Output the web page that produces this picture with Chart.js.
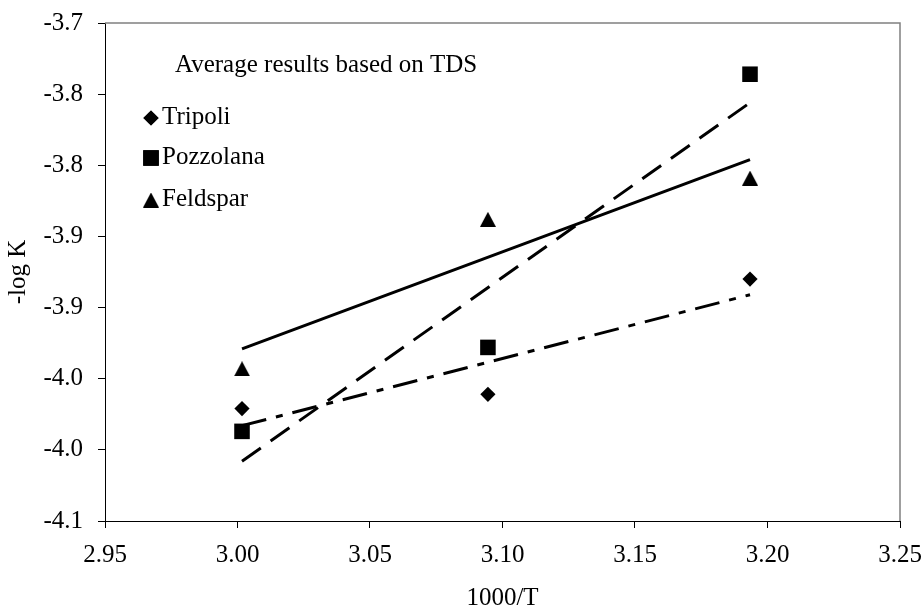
<!DOCTYPE html>
<html>
<head>
<meta charset="utf-8">
<script src="https://cdn.jsdelivr.net/npm/chart.js@4.4.1/dist/chart.umd.min.js"></script>
<style>
  html, body { margin: 0; padding: 0; background: #ffffff; }
  #wrap { width: 923px; height: 614px; position: relative; }
</style>
</head>
<body>
<div id="wrap"><canvas id="c" width="923" height="614"></canvas></div>
<script>
// ---- data ----
const xValues = [3.0017, 3.0945, 3.1934];           // 1000/T
const tripoli = [-3.971, -3.961, -3.880];
const pozzolana = [-3.987, -3.928, -3.736];
const feldspar = [-3.943, -3.838, -3.809];

// trendline end points
const fitX = [3.0017, 3.1934];
const tripoliFit = [-3.983, -3.891];
const pozzolanaFit = [-4.008, -3.756];
const feldsparFit = [-3.929, -3.796];

const seriesNames = ['Tripoli', 'Pozzolana', 'Feldspar'];
const legendTitle = 'Average results based on TDS';

const xTickValues = [2.95, 3.00, 3.05, 3.10, 3.15, 3.20, 3.25];
const xTickLabels = ['2.95', '3.00', '3.05', '3.10', '3.15', '3.20', '3.25'];
const yTickValues = [-4.05, -4.00, -3.95, -3.90, -3.85, -3.80, -3.75, -3.70];
const yTickLabels = ['-4.1', '-4.0', '-4.0', '-3.9', '-3.9', '-3.8', '-3.8', '-3.7'];

const xTitle = '1000/T';
const yTitle = '-log K';

// ---- build ----
const FONT = '"Liberation Serif", "Times New Roman", serif';
const FS = 25;
const toPts = (xs, ys) => xs.map((x, i) => ({ x: x, y: ys[i] }));

function triangleCanvas(w, h) {
  const c = document.createElement('canvas');
  c.width = w; c.height = h;
  const g = c.getContext('2d');
  g.fillStyle = '#000';
  g.beginPath();
  g.moveTo(w / 2, 0);
  g.lineTo(w, h);
  g.lineTo(0, h);
  g.closePath();
  g.fill();
  return c;
}
const triBig = triangleCanvas(16, 15);

const markerStyles = ['rectRot', 'rect', triBig];
const markerRadius = [7.6, 11, 8];

const datasets = [
  { type: 'line', label: 'fitT', data: toPts(fitX, tripoliFit), borderColor: '#000', borderWidth: 3,
    borderDash: [25, 10, 7, 10], pointRadius: 0, fill: false, order: 2 },
  { type: 'line', label: 'fitP', data: toPts(fitX, pozzolanaFit), borderColor: '#000', borderWidth: 3,
    borderDash: [23, 12], pointRadius: 0, fill: false, order: 2 },
  { type: 'line', label: 'fitF', data: toPts(fitX, feldsparFit), borderColor: '#000', borderWidth: 3,
    pointRadius: 0, fill: false, order: 2 },
  { type: 'scatter', label: seriesNames[0], data: toPts(xValues, tripoli), pointStyle: markerStyles[0],
    pointRadius: markerRadius[0], backgroundColor: '#000', borderColor: '#000', borderWidth: 0, order: 1 },
  { type: 'scatter', label: seriesNames[1], data: toPts(xValues, pozzolana), pointStyle: markerStyles[1],
    pointRadius: markerRadius[1], backgroundColor: '#000', borderColor: '#000', borderWidth: 0, order: 1 },
  { type: 'scatter', label: seriesNames[2], data: toPts(xValues, feldspar), pointStyle: markerStyles[2],
    pointRadius: markerRadius[2], backgroundColor: '#000', borderColor: '#000', borderWidth: 0, order: 1 }
];

const frame = {
  id: 'frame',
  afterDraw(chart) {
    const ctx = chart.ctx, a = chart.chartArea;
    ctx.save();
    ctx.strokeStyle = '#808080';
    ctx.lineWidth = 1.5;
    ctx.beginPath();
    ctx.moveTo(a.left, a.top);
    ctx.lineTo(a.right, a.top);
    ctx.lineTo(a.right, a.bottom);
    ctx.stroke();
    // legend text box
    ctx.fillStyle = '#000';
    ctx.font = FS + 'px ' + FONT;
    ctx.textBaseline = 'middle';
    ctx.textAlign = 'left';
    ctx.fillText(legendTitle, 175, 65);
    const rows = [117, 157, 199];
    for (let i = 0; i < 3; i++) {
      ctx.fillStyle = '#000';
      Chart.helpers.drawPoint(ctx, { pointStyle: markerStyles[i], radius: markerRadius[i], borderWidth: 0 }, 151, rows[i] + 1);
      if (typeof markerStyles[i] === 'string') ctx.fill();
      ctx.fillText(seriesNames[i], 162, rows[i]);
    }
    ctx.restore();
  }
};

new Chart(document.getElementById('c'), {
  type: 'scatter',
  data: { datasets },
  options: {
    responsive: false,
    animation: false,
    layout: { autoPadding: false, padding: { top: 23, right: 23, left: 0, bottom: 0 } },
    plugins: { legend: { display: false }, tooltip: { enabled: false } },
    scales: {
      x: {
        type: 'linear', min: 2.95, max: 3.25,
        afterBuildTicks: s => { s.ticks = xTickValues.map(v => ({ value: v })); },
        afterFit: s => { s.height = 93; s.paddingLeft = 0; s.paddingRight = 0; },
        ticks: { callback: (v, i) => xTickLabels[i], color: '#000', font: { family: FONT, size: FS }, padding: 12, maxRotation: 0 },
        grid: { drawOnChartArea: false, drawTicks: true, tickLength: 7, color: '#000' },
        border: { display: true, color: '#000', width: 1 },
        title: { display: true, text: xTitle, color: '#000', font: { family: FONT, size: FS }, padding: { top: 0, bottom: 1 } }
      },
      y: {
        type: 'linear', min: -4.05, max: -3.70,
        afterBuildTicks: s => { s.ticks = yTickValues.map(v => ({ value: v })); },
        afterFit: s => { s.width = 105; s.paddingTop = 0; s.paddingBottom = 0; },
        ticks: { callback: (v, i) => yTickLabels[i], color: '#000', font: { family: FONT, size: FS }, padding: 15 },
        grid: { drawOnChartArea: false, drawTicks: true, tickLength: 7, color: '#000' },
        border: { display: true, color: '#000', width: 1 },
        title: { display: true, text: yTitle, color: '#000', font: { family: FONT, size: FS }, padding: { top: 3, bottom: 0 } }
      }
    }
  },
  plugins: [frame]
});
</script>
</body>
</html>
